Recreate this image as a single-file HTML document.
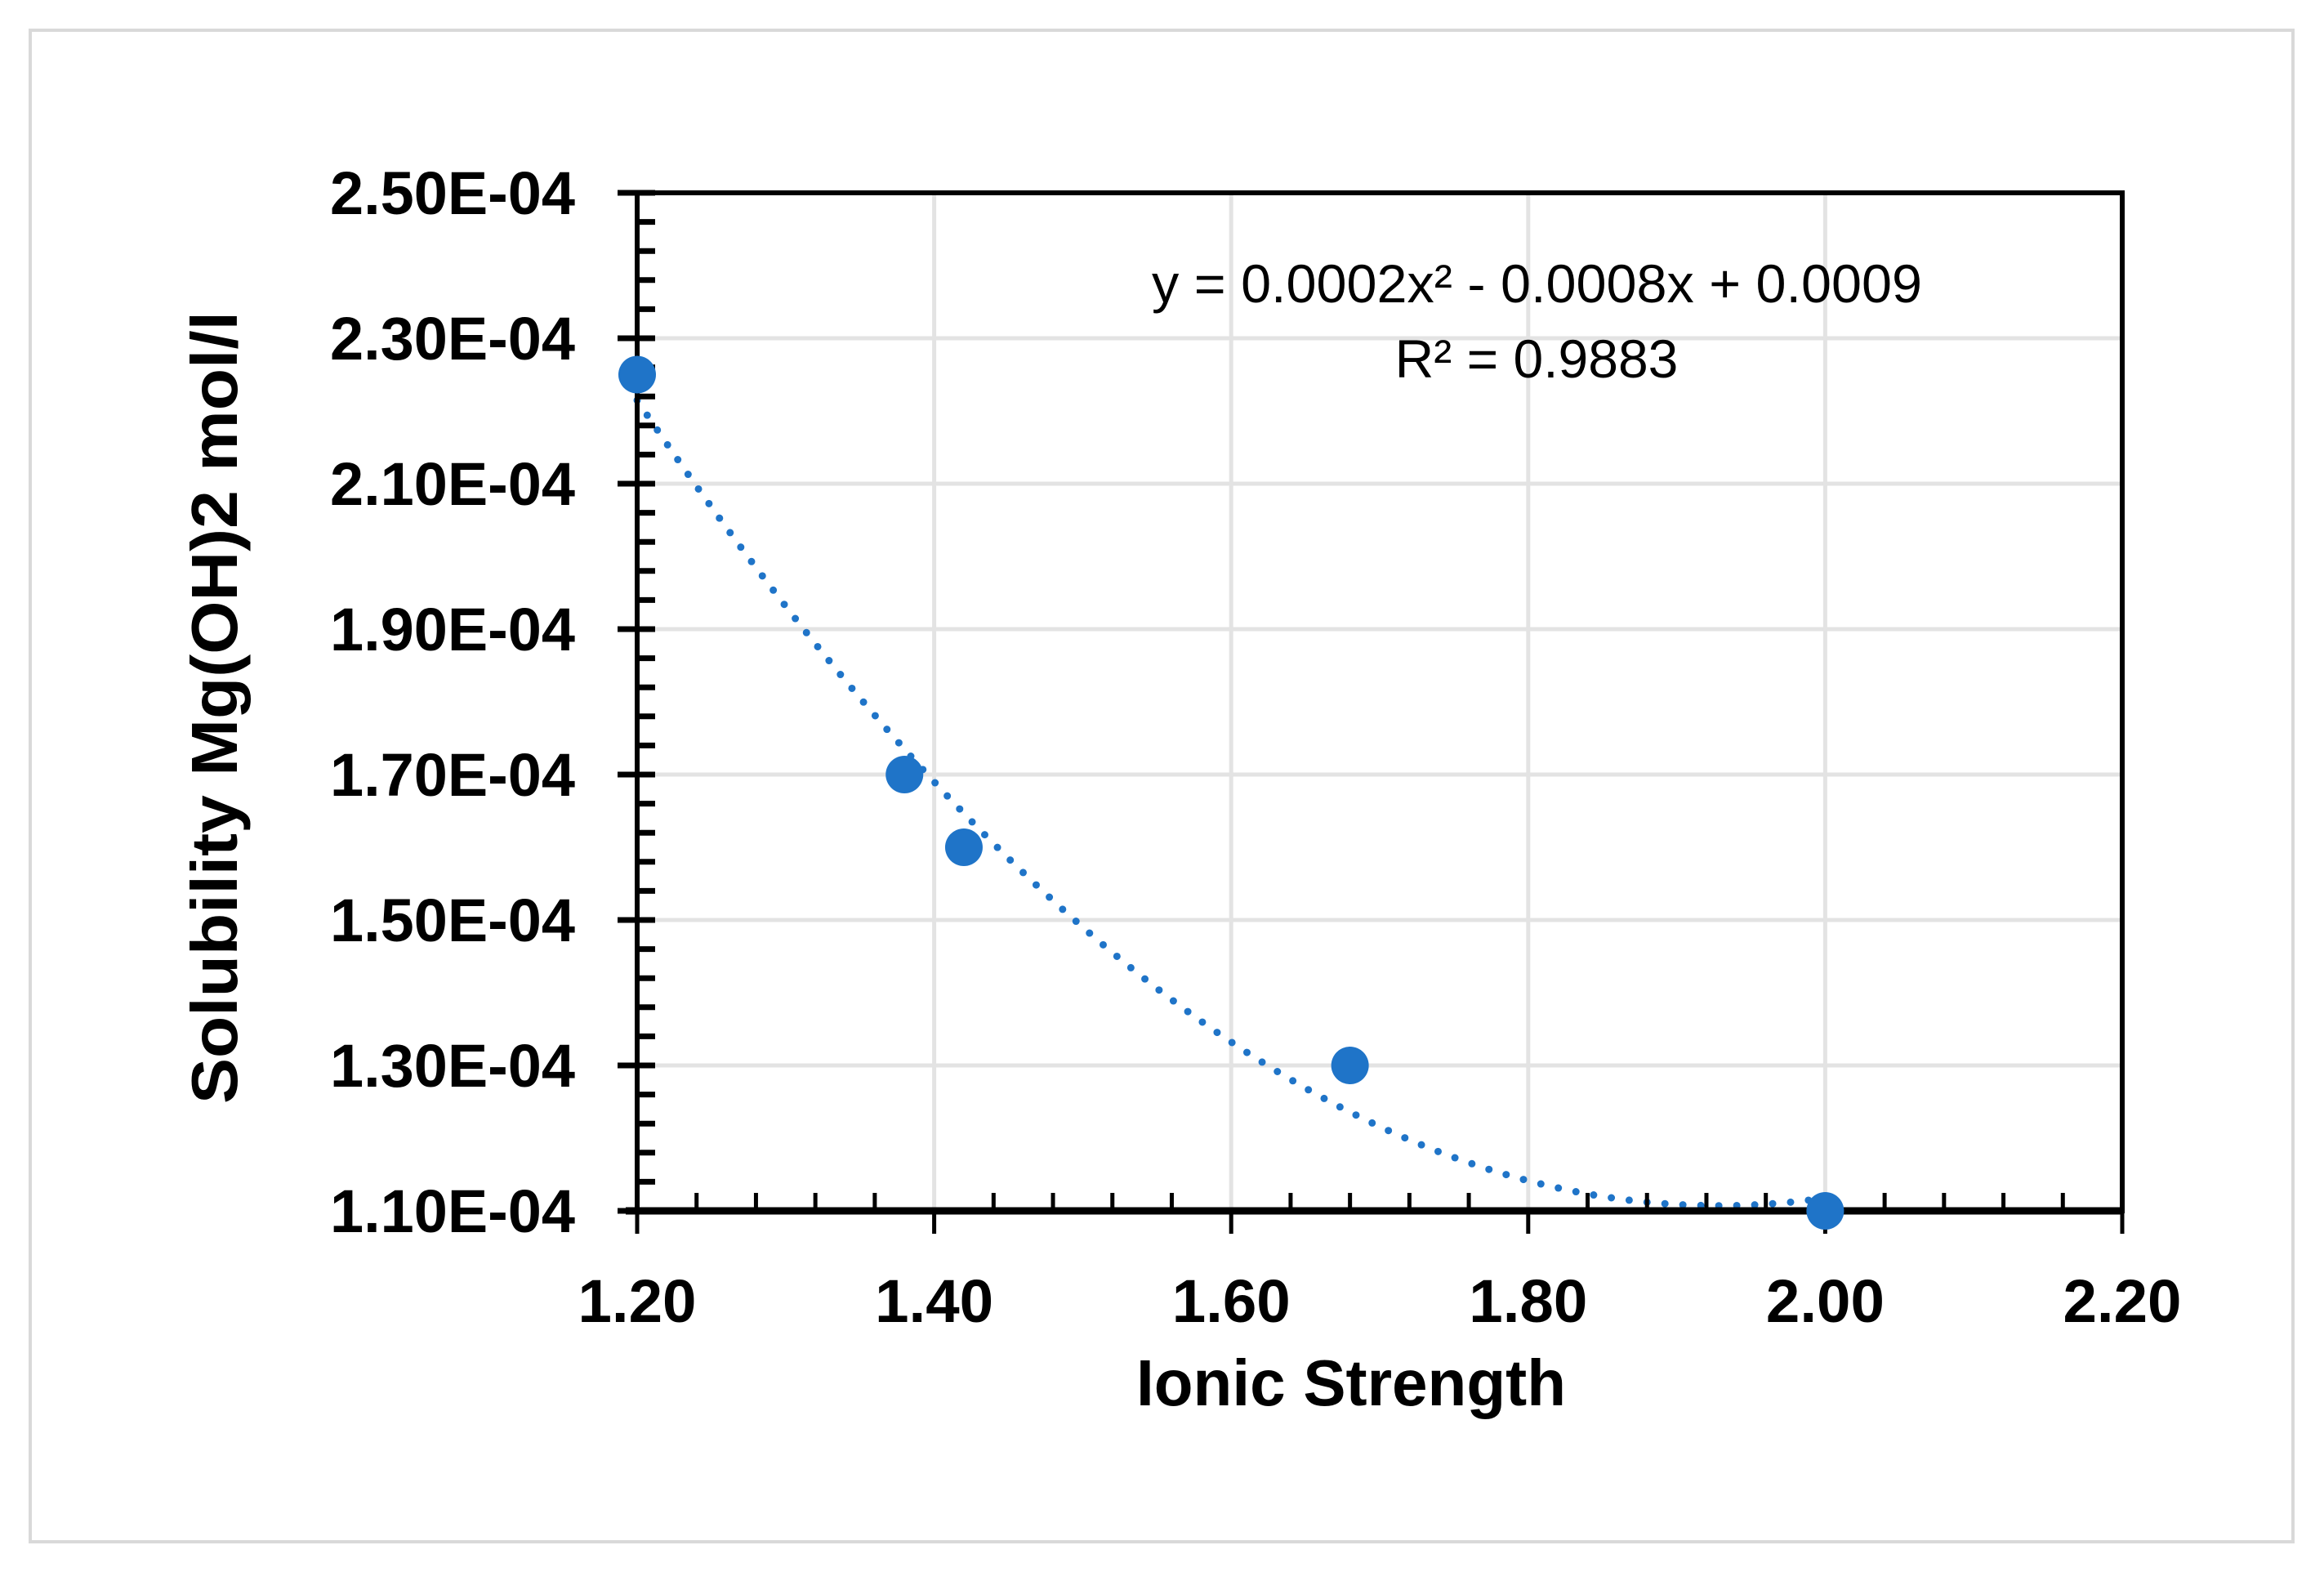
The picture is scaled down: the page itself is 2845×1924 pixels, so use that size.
<!DOCTYPE html>
<html><head><meta charset="utf-8"><style>
html,body{margin:0;padding:0;background:#fff}
svg{display:block}
text{font-family:"Liberation Sans",sans-serif}
</style></head><body>
<svg id="chart" width="2845" height="1924" viewBox="0 0 2845 1924" xmlns="http://www.w3.org/2000/svg">
<rect x="37" y="37" width="2770" height="1850" fill="#fff" stroke="#d9d9d9" stroke-width="4"/>
<g id="grid"></g>
<g id="trend"></g>
<g id="axes"></g>
<g id="points"></g>
<text x="1410" y="370" font-size="66" textLength="943" lengthAdjust="spacingAndGlyphs" fill="#000">y = 0.0002x² - 0.0008x + 0.0009</text>
<text x="1881" y="462" font-size="66" text-anchor="middle" fill="#000">R² = 0.9883</text>
<text x="1654" y="1720" font-size="80" font-weight="bold" text-anchor="middle" textLength="526" lengthAdjust="spacingAndGlyphs">Ionic Strength</text>
<text transform="translate(290,866) rotate(-90)" x="0" y="0" font-size="80" font-weight="bold" text-anchor="middle" textLength="970" lengthAdjust="spacingAndGlyphs">Solubility  Mg(OH)2 mol/l</text>
</svg>
<script>
const xValues = [1.20, 1.38, 1.42, 1.68, 2.00];
const yValues = [2.25e-4, 1.70e-4, 1.60e-4, 1.30e-4, 1.10e-4];
const xTickLabels = ["1.20","1.40","1.60","1.80","2.00","2.20"];
const yTickLabels = ["1.10E-04","1.30E-04","1.50E-04","1.70E-04","1.90E-04","2.10E-04","2.30E-04","2.50E-04"];
const xMin = 1.2, xMax = 2.2, yMin = 1.1e-4, yMax = 2.5e-4;
const PL = 780, PR = 2598, PT = 236, PB = 1482;
const NS = "http://www.w3.org/2000/svg";
function sx(v){ return PL + (v - xMin) / (xMax - xMin) * (PR - PL); }
function sy(v){ return PB - (v - yMin) / (yMax - yMin) * (PB - PT); }
function mk(tag, attrs, parent){
  const e = document.createElementNS(NS, tag);
  for (const k in attrs) e.setAttribute(k, attrs[k]);
  parent.appendChild(e); return e;
}
const grid = document.getElementById('grid');
const axes = document.getElementById('axes');
const pts = document.getElementById('points');
const trend = document.getElementById('trend');
yTickLabels.forEach((lab) => {
  const v = parseFloat(lab), y = sy(v);
  const g = mk('line', {x1: PL, x2: PR, y1: y, y2: y, stroke: '#e3e3e3', 'stroke-width': 5}, grid);
  
  
  const t = mk('text', {x: 704, y: y + 26, 'font-size': 74, 'font-weight': 'bold', 'text-anchor': 'end', textLength: 300, lengthAdjust: 'spacingAndGlyphs'}, axes);
  t.textContent = lab;
  
  
  const tk = mk('line', {x1: PL - 24, x2: PL + 22, y1: y, y2: y, stroke: '#000', 'stroke-width': 7}, axes);
  
  
});
xTickLabels.forEach((lab) => {
  const v = parseFloat(lab), x = sx(v);
  const g = mk('line', {x1: x, x2: x, y1: PT, y2: PB, stroke: '#e3e3e3', 'stroke-width': 5}, grid);
  
  
  const t = mk('text', {x: x, y: 1618, 'font-size': 74, 'font-weight': 'bold', 'text-anchor': 'middle', textLength: 145, lengthAdjust: 'spacingAndGlyphs'}, axes);
  t.textContent = lab;
  
  
  const tk = mk('line', {x1: x, x2: x, y1: PB, y2: PB + 28, stroke: '#000', 'stroke-width': 5}, axes);
  
  
});
for (let i = 1; i < 35; i++) {
  if (i % 5 === 0) continue;
  const y = sy(yMin + i * (yMax - yMin) / 35);
  const m = mk('line', {x1: PL, x2: PL + 22, y1: y, y2: y, stroke: '#000', 'stroke-width': 7}, axes);
  
  
}
for (let i = 1; i < 25; i++) {
  if (i % 5 === 0) continue;
  const x = sx(xMin + i * (xMax - xMin) / 25);
  const m = mk('line', {x1: x, x2: x, y1: PB, y2: PB - 22, stroke: '#000', 'stroke-width': 5}, axes);
  
  
}
const fr = mk('rect', {x: PL, y: PT, width: PR - PL, height: PB - PT, fill: 'none', stroke: '#000', 'stroke-width': 6}, axes);


const xa = mk('line', {x1: PL - 14, x2: PR, y1: PB, y2: PB, stroke: '#000', 'stroke-width': 9}, axes);


(function(){
  let S = [0,0,0,0,0], T = [0,0,0];
  for (let i = 0; i < xValues.length; i++) {
    const x = xValues[i], y = yValues[i];
    for (let p = 0; p < 5; p++) S[p] += Math.pow(x, p);
    for (let p = 0; p < 3; p++) T[p] += y * Math.pow(x, p);
  }
  const A = [[S[0],S[1],S[2],T[0]],[S[1],S[2],S[3],T[1]],[S[2],S[3],S[4],T[2]]];
  for (let i = 0; i < 3; i++) {
    for (let j = i + 1; j < 3; j++) {
      const f = A[j][i] / A[i][i];
      for (let k = i; k < 4; k++) A[j][k] -= f * A[i][k];
    }
  }
  const c = [0,0,0];
  for (let i = 2; i >= 0; i--) {
    let s = A[i][3];
    for (let k = i + 1; k < 3; k++) s -= A[i][k] * c[k];
    c[i] = s / A[i][i];
  }
  const x0 = Math.min(...xValues), x1 = Math.max(...xValues);
  let d = '';
  for (let i = 0; i <= 200; i++) {
    const x = x0 + (x1 - x0) * i / 200;
    const y = c[0] + c[1] * x + c[2] * x * x;
    d += (i ? 'L' : 'M') + sx(x).toFixed(1) + ',' + sy(y).toFixed(1);
  }
  const p = mk('path', {d: d, fill: 'none', stroke: '#1f74c8', 'stroke-width': 9, 'stroke-linecap': 'round', 'stroke-dasharray': '0 22'}, trend);
  
  
})();
xValues.forEach((xv, i) => {
  const c = mk('circle', {cx: sx(xv), cy: sy(yValues[i]), r: 23, fill: '#1f74c8'}, pts);
  
  
});
</script>
</body></html>
